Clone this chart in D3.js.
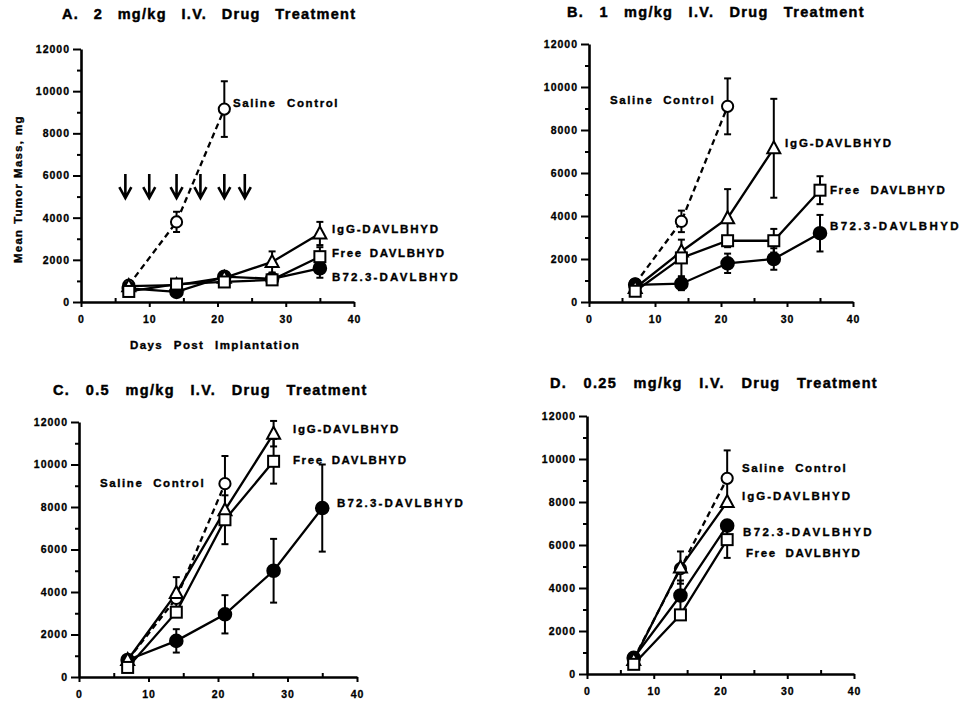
<!DOCTYPE html>
<html><head><meta charset="utf-8">
<script src="https://cdn.jsdelivr.net/npm/d3@7"></script>
<style>
body{margin:0;background:#fff;}
text{font-family:"Liberation Sans",Arial,sans-serif;font-weight:bold;fill:#000;stroke:#000;stroke-width:0.35px;}
</style></head>
<body>
<script>
// ---------- data ----------
const days = [7, 14, 21, 28, 35];
const xTicks = [0, 10, 20, 30, 40];
const xMinor = [5, 15, 25, 35];
const yTicks = [0, 2000, 4000, 6000, 8000, 10000, 12000];
const yMinor = [1000, 3000, 5000, 7000, 9000, 11000];
const doseDays = [6.5, 10, 14, 17.5, 21, 24];
const arrowRange = [6070, 4930];

const titles = ["A.  2  mg/kg  I.V.  Drug  Treatment", "B.  1  mg/kg  I.V.  Drug  Treatment",
                "C.  0.5  mg/kg  I.V.  Drug  Treatment", "D.  0.25  mg/kg  I.V.  Drug  Treatment"];
const seriesNames = ["Saline  Control", "IgG-DAVLBHYD", "Free  DAVLBHYD", "B72.3-DAVLBHYD"];
const xTitle = "Days  Post  Implantation";
const yTitle = "Mean  Tumor  Mass,  mg";

// Panel A (2 mg/kg)
const A_saline = [800, 3800, 9150],            A_salineErr = [0, 480, 1320];
const A_igg    = [750, 800, 1150, 1900, 3250], A_iggErr    = [0, 0, 0, 500, 550];
const A_free   = [500, 850, 950, 1050, 2150],  A_freeErr   = [0, 0, 0, 0, 450];
const A_b72    = [650, 480, 1200, 1100, 1600], A_b72Err    = [0, 0, 0, 0, 450];
// Panel B (1 mg/kg)
const B_saline = [850, 3750, 9100],            B_salineErr = [0, 500, 1300];
const B_igg    = [650, 2350, 3900, 7150],      B_iggErr    = [0, 0, 1350, 2300];
const B_free   = [500, 2050, 2850, 2850, 5200],B_freeErr   = [0, 850, 0, 550, 650];
const B_b72    = [800, 850, 1800, 2000, 3200], B_b72Err    = [0, 300, 450, 500, 850];
// Panel C (0.5 mg/kg)
const C_saline = [800, 3700, 9100],            C_salineErr = [0, 0, 1300];
const C_igg    = [800, 3950, 7850, 11450],     C_iggErr    = [0, 750, 0, 600];
const C_free   = [450, 3050, 7400, 10150],     C_freeErr   = [0, 0, 1150, 1050];
const C_b72    = [800, 1700, 2950, 5000, 7950],C_b72Err    = [0, 550, 900, 1500, 2050];
// Panel D (0.25 mg/kg)
const D_saline = [700, 4900, 9100],            D_salineErr = [0, 0, 1300];
const D_igg    = [650, 4950, 8000],            D_iggErr    = [0, 750, 0];
const D_b72    = [750, 3650, 6900],            D_b72Err    = [0, 700, 0];
const D_free   = [450, 2750, 6250],            D_freeErr   = [0, 0, 850];

// ---------- layout ----------
const panels = [
  {x0:81, x1:354, y0:302, y1:49, title:[62,19,301], arrows:true, axisTitles:true,
   series:[[A_saline,A_salineErr],[A_igg,A_iggErr],[A_free,A_freeErr],[A_b72,A_b72Err]],
   labels:[[233,107,107],[332,233,108],[332,257,114],[332,281,128]]},
  {x0:589, x1:853, y0:302, y1:44, title:[567,17,305],
   series:[[B_saline,B_salineErr],[B_igg,B_iggErr],[B_free,B_freeErr],[B_b72,B_b72Err]],
   labels:[[610,104,106],[785,147,108],[830,194,117],[830,230,131]]},
  {x0:79, x1:357, y0:677, y1:422, title:[53,395,322],
   series:[[C_saline,C_salineErr],[C_igg,C_iggErr],[C_free,C_freeErr],[C_b72,C_b72Err]],
   labels:[[100,487,106],[293,433,107],[293,464,115],[337,507,128]]},
  {x0:587, x1:854, y0:674, y1:416, title:[550,388,336],
   series:[[D_saline,D_salineErr],[D_igg,D_iggErr],[D_free,D_freeErr],[D_b72,D_b72Err]],
   labels:[[742,472,106],[742,500,110],[746,557,116],[743,536,131]]}
];
const markers = ["openCircle", "triangle", "square", "filledCircle"];
const markerOrder = [0, 3, 1, 2];

const svg = d3.select("body").append("svg").attr("width", 977).attr("height", 707);

function fit(t, w, ls) {
  const n = (t.text().match(/ /g) || []).length;
  if (ls == null) {
    t.style("letter-spacing", "0px");
    const len = t.node().getBBox().width;
    ls = (w - len) / t.text().length;
  }
  t.style("letter-spacing", ls + "px").style("word-spacing", "0px");
  if (n > 0) {
    let ws = 0;
    for (let i = 0; i < 3; i++) {
      const len = t.node().getBBox().width;
      ws += (w - len) / n;
      t.style("word-spacing", ws + "px");
    }
  }
}

function drawPanel(p, pi) {
  const x = d3.scaleLinear().domain([0, 40]).range([p.x0, p.x1]);
  const y = d3.scaleLinear().domain([0, 12000]).range([p.y0, p.y1]);
  const g = svg.append("g");

  // axes
  const yAx = g.append("g").attr("transform", `translate(${p.x0},0)`)
    .call(d3.axisLeft(y).tickValues(yTicks).tickSize(8).tickSizeOuter(0).tickPadding(3).tickFormat(d3.format("d")));
  const yMin = g.append("g").attr("transform", `translate(${p.x0},0)`)
    .call(d3.axisLeft(y).tickValues(yMinor).tickSize(4).tickSizeOuter(0).tickFormat(""));
  const xAx = g.append("g").attr("transform", `translate(0,${p.y0})`)
    .call(d3.axisBottom(x).tickValues(xTicks).tickSize(5).tickSizeOuter(0).tickPadding(9).tickFormat(d3.format("d")));
  const xMin = g.append("g").attr("transform", `translate(0,${p.y0})`)
    .call(d3.axisBottom(x).tickValues(xMinor).tickSize(-4).tickSizeOuter(0).tickFormat(""));
  [yAx, yMin, xAx, xMin].forEach(a => {
    a.attr("font-family", null).attr("font-size", null);
    a.select(".domain").attr("stroke-width", 2.6);
    a.selectAll(".tick line").attr("stroke-width", 2);
    a.selectAll("text").style("font-size", "10.5px").style("letter-spacing", "1px").style("stroke-width", "0.3px");
  });
  yMin.select(".domain").remove(); xMin.select(".domain").remove();

  // lines
  const line = d3.line().x((d, i) => x(days[i])).y(d => y(d));
  p.series.forEach((s, k) => {
    g.append("path").attr("d", line(s[0])).attr("fill", "none").attr("stroke", "#000")
      .attr("stroke-width", 2.3).attr("stroke-dasharray", k === 0 ? "6,4" : null);
  });
  // error bars
  p.series.forEach((s) => {
    s[0].forEach((v, i) => {
      const e = s[1][i];
      if (!e) return;
      const cx = x(days[i]);
      g.append("line").attr("x1", cx).attr("x2", cx).attr("y1", y(v - e)).attr("y2", y(v + e))
        .attr("stroke", "#000").attr("stroke-width", 2);
      [v - e, v + e].forEach(b => g.append("line").attr("x1", cx - 3.5).attr("x2", cx + 3.5)
        .attr("y1", y(b)).attr("y2", y(b)).attr("stroke", "#000").attr("stroke-width", 2));
    });
  });
  // markers
  markerOrder.forEach(k => {
    const s = p.series[k];
    const m = markers[k];
    s[0].forEach((v, i) => {
      const cx = x(days[i]), cy = y(v);
      if (m === "openCircle" || m === "filledCircle") {
        g.append("circle").attr("cx", cx).attr("cy", cy).attr("r", m === "filledCircle" ? 6.3 : 5.6)
          .attr("fill", m === "filledCircle" ? "#000" : "#fff").attr("stroke", "#000").attr("stroke-width", 2);
      } else if (m === "square") {
        g.append("rect").attr("x", cx - 5.5).attr("y", cy - 5.5).attr("width", 11).attr("height", 11)
          .attr("fill", "#fff").attr("stroke", "#000").attr("stroke-width", 2);
      } else {
        g.append("path").attr("d", `M${cx},${cy - 7}L${cx + 6.5},${cy + 5}L${cx - 6.5},${cy + 5}Z`)
          .attr("fill", "#fff").attr("stroke", "#000").attr("stroke-width", 2);
      }
    });
  });

  // arrows
  if (p.arrows) {
    doseDays.forEach(d => {
      const ax = x(d), yt = y(arrowRange[0]), yb = y(arrowRange[1]);
      g.append("path").attr("d", `M${ax},${yt}L${ax},${yb}M${ax - 6},${yb - 11}L${ax},${yb}L${ax + 6},${yb - 11}`)
        .attr("fill", "none").attr("stroke", "#000").attr("stroke-width", 2.6);
    });
  }

  // series labels
  p.labels.forEach((l, k) => {
    const t = g.append("text").attr("x", l[0]).attr("y", l[1]).style("font-size", "11.5px").text(seriesNames[k]);
    fit(t, l[2], k === 0 || k === 2 ? 1.6 : null);
  });

  // title
  const tt = g.append("text").attr("x", p.title[0]).attr("y", p.title[1]).style("font-size", "14.5px")
    .style("stroke-width", "0.45px").text(titles[pi]);
  fit(tt, p.title[2], 1.3);

  if (p.axisTitles) {
    const xt = g.append("text").attr("x", 130).attr("y", 349).style("font-size", "11.5px").text(xTitle);
    fit(xt, 172, 1.4);
    const yt = g.append("text").attr("transform", "translate(22,263) rotate(-90)").style("font-size", "11.5px").text(yTitle);
    fit(yt, 148, 1.2);
  }
}
panels.forEach(drawPanel);
</script>
</body></html>
